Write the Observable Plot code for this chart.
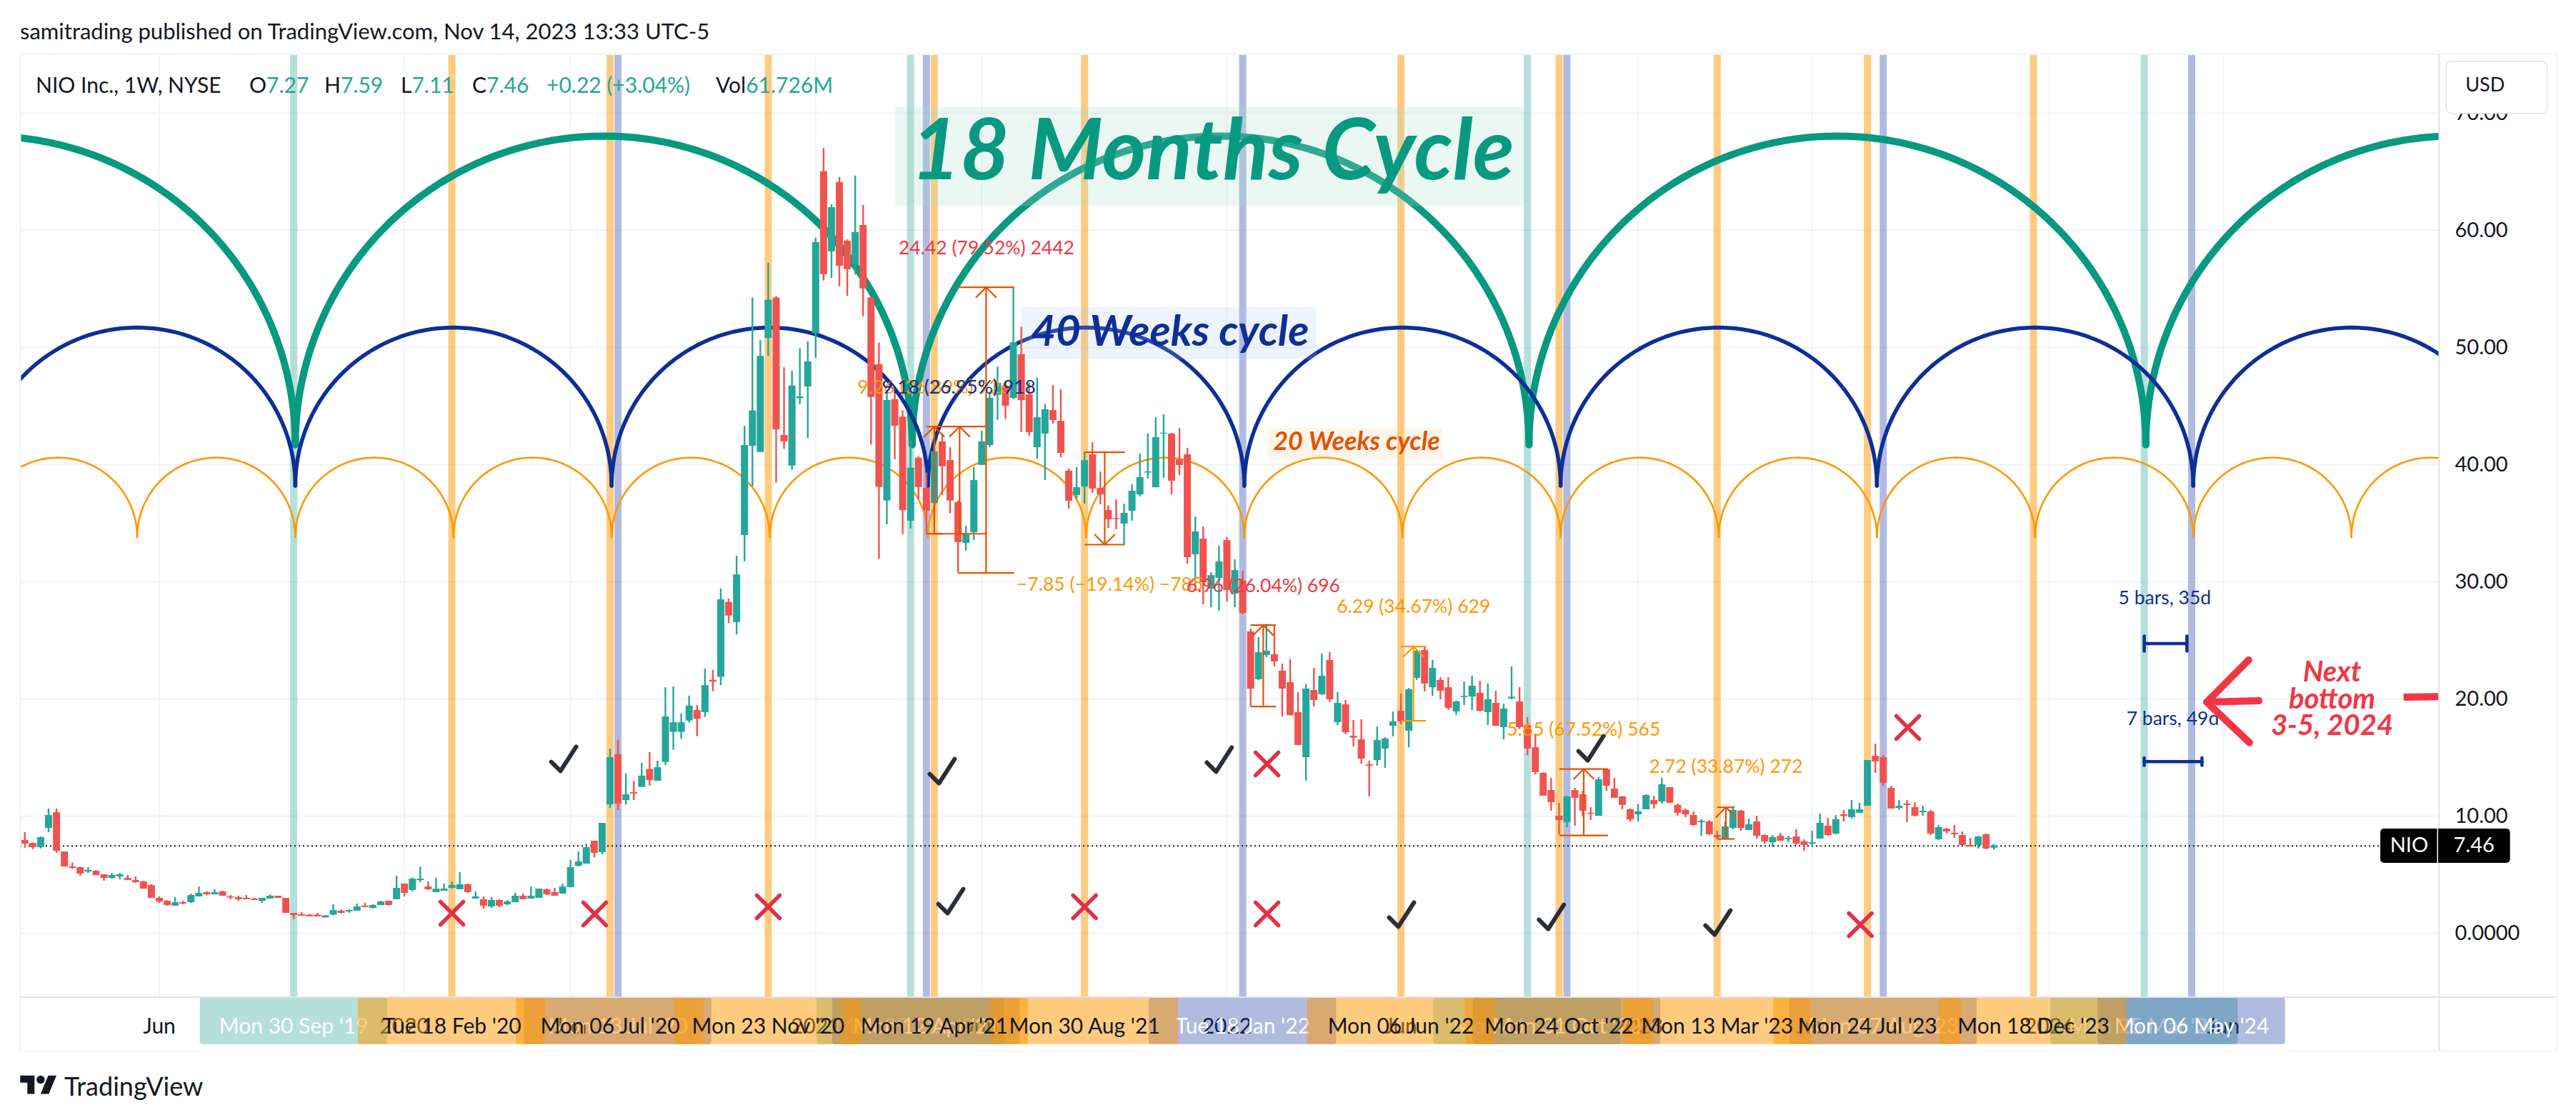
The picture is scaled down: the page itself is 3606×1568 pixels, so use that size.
<!DOCTYPE html>
<html><head><meta charset="utf-8">
<style>
html,body{margin:0;padding:0;background:#fff;overflow:hidden}
body{font-family:Lato,"Noto Sans",sans-serif;color:#131722;width:3606px;height:1568px;position:relative}
#top{height:75px;line-height:86px;padding-left:28px;font-size:31px;box-sizing:border-box}
#foot{height:96px;display:flex;align-items:center;padding-left:28px;font-size:36px;gap:10px;box-sizing:border-box}
.lg{position:absolute;top:98px;font-size:30px;line-height:40px;white-space:pre}
.v{color:#26a69a}
</style>
<script src="https://cdn.jsdelivr.net/npm/d3@7"></script>
<script src="https://cdn.jsdelivr.net/npm/@observablehq/plot@0.6"></script>
</head><body>
<div id="top">samitrading published on TradingView.com, Nov 14, 2023 13:33 UTC-5</div>
<div id="chart"></div>
<div id="foot"><svg width="52" height="40" viewBox="0 0 36 28"><path fill="#131722" d="M14 22H7V11H0V4h14v18zM28 22h-8l7.5-18h8L28 22z"/><circle fill="#131722" cx="20" cy="8" r="4"/></svg><span>TradingView</span></div>
<div class="lg" style="left:50px">NIO Inc., 1W, NYSE</div>
<div class="lg" style="left:349px">O<span class="v">7.27</span></div>
<div class="lg" style="left:454px">H<span class="v">7.59</span></div>
<div class="lg" style="left:561px">L<span class="v">7.11</span></div>
<div class="lg" style="left:661px">C<span class="v">7.46</span></div>
<div class="lg v" style="left:765px">+0.22 (+3.04%)</div>
<div class="lg" style="left:1002px">Vol<span class="v">61.726M</span></div>
<script>
const firstWeek = "2019-02-04";
const opens = [7.93,7.68,7.32,8.96,10.30,6.95,5.67,5.61,5.24,5.30,
5.00,4.69,4.82,4.69,4.51,4.39,4.08,2.99,2.74,2.32,
2.62,2.62,3.11,3.47,3.29,3.54,3.13,3.05,2.99,2.93,
2.74,2.93,3.17,2.99,1.71,1.58,1.56,1.56,1.32,1.56,
1.89,1.83,1.89,2.32,2.13,2.38,2.74,2.87,4.21,3.66,
4.51,3.96,3.48,3.60,3.84,3.72,4.15,2.93,2.87,2.26,
2.81,2.44,2.62,3.17,2.93,2.99,3.72,3.48,3.35,3.90,
5.73,5.91,7.87,6.89,10.98,15.26,11.34,12.01,12.46,13.99,
12.98,14.59,17.16,17.16,18.13,19.03,18.84,21.60,21.86,28.25,
26.53,33.96,41.57,41.05,50.79,54.23,42.5,39.89,45.64,46.65,
51.17,65.01,58.18,64.08,59.08,57.06,60.42,54.26,48.55,36.91,
45.57,44.07,35.19,40.56,37.99,36.7,41.95,40.36,36.76,33.29,
34.20,39.95,41.64,45.93,46.58,45.67,49.39,45.97,41.46,42.62,
44.63,43.71,39.45,37.37,38.10,40.85,37.98,36.09,35.40,34.93,
36.03,37.43,39.30,38.04,42.62,42.62,40.42,40.85,32.31,33.65,
29.39,30.30,33.53,28.96,30.06,25.73,21.65,23.72,23.78,22.38,
21.40,18.84,15.0,20.73,20.37,23.29,17.99,19.51,16.83,16.52,
14.39,14.76,15.73,17.68,18.96,17.26,21.77,24.15,20.97,21.59,
20.97,18.9,20.14,20.18,20.49,18.84,19.63,17.56,20.02,19.76,
17.74,15.85,13.66,12.19,10.0,9.45,12.19,11.83,10.25,10.0,
13.96,12.32,11.65,10.55,10.12,10.55,11.34,11.22,12.44,10.92,
10.49,10.06,9.45,9.51,8.35,8.05,8.96,10.43,8.78,9.51,
8.35,7.74,8.29,7.99,8.23,7.81,7.62,8.05,9.15,8.48,
10.12,9.88,10.25,10.85,15.12,15.0,12.38,10.67,11.04,10.73,
10.31,10.37,7.99,8.90,8.54,8.35,7.50,7.50,8.42,7.27];
const highs = [8.60,7.72,8.23,10.61,10.61,6.95,6.01,5.65,5.61,5.36,
5.00,5.12,5.12,4.94,4.82,4.45,4.15,3.11,2.80,3.05,
2.74,3.35,3.96,3.54,3.72,3.60,3.23,3.17,3.23,2.99,
2.99,3.29,3.17,2.99,1.71,1.77,1.62,1.71,1.50,2.44,
2.0,2.01,2.5,2.56,2.44,2.74,2.74,4.88,4.21,4.70,
5.67,4.39,4.70,4.21,4.39,5.18,4.21,3.54,3.11,3.05,
2.87,2.81,3.42,3.35,3.96,3.78,3.78,3.84,4.21,6.22,
6.95,7.62,7.87,9.39,15.73,16.49,13.62,12.98,14.51,15.44,
14.70,20.97,21.04,18.73,20.26,19.44,22.57,22.46,29.40,28.54,
32.2,43.29,54.23,50.6,57.21,54.37,48.29,47.99,49.9,50.49,
59.34,66.99,62.21,64.53,59.19,64.64,62.14,54.26,50.38,46.16,
46.16,44.6,42.06,40.68,39.29,41.6,42.54,41.46,36.9,34.75,
39.75,42.86,46.19,48.33,46.95,55.1,51.74,46.95,47.37,45.18,
46.76,46.40,39.63,39.75,41.05,41.89,39.39,36.52,37.01,36.64,
38.29,40.91,42.62,44.02,44.26,42.68,43.10,41.40,35.54,34.69,
30.79,33.04,33.78,31.89,30.91,25.98,25.24,26.38,26.22,22.99,
23.35,20.55,21.22,22.62,23.84,23.96,20.55,19.88,18.17,18.23,
14.70,17.62,16.71,18.90,20.43,20.91,24.15,24.49,23.29,21.83,
21.83,19.82,21.46,21.95,21.52,21.28,20.67,19.57,22.74,20.98,
18.42,17.0,13.72,13.23,11.1,11.71,12.38,12.13,10.73,13.30,
13.98,13.23,11.71,10.61,10.98,11.83,11.71,13.23,12.44,11.04,
10.61,10.37,9.70,9.64,8.72,9.51,10.79,10.49,9.76,10.0,
8.42,8.35,8.54,8.29,8.84,7.99,8.72,10.18,9.82,10.06,
10.49,11.34,11.10,14.76,16.16,15.18,12.56,11.34,11.34,11.16,
10.85,10.49,9.21,8.96,9.21,8.66,8.11,8.29,8.48,7.59];
const lows = [7.28,7.15,7.21,8.60,6.83,5.67,5.45,4.88,5.12,4.94,
4.45,4.63,4.57,4.51,4.27,3.78,2.99,2.56,2.32,2.32,
2.44,2.56,3.11,3.23,3.29,3.17,2.87,2.74,2.87,2.80,
2.56,2.93,2.99,1.71,1.16,1.46,1.41,1.41,1.32,1.50,
1.65,1.71,1.89,2.2,2.07,2.38,2.32,2.87,3.11,3.54,
4.33,3.66,3.48,3.6,3.78,3.72,3.42,2.93,2.07,2.13,
2.2,2.38,2.62,2.87,2.93,2.99,3.23,3.17,3.35,3.9,
5.67,5.91,6.46,6.71,10.67,10.48,10.96,11.34,12.46,12.57,
12.98,14.32,15.63,16.56,17.95,16.79,18.43,20.63,21.15,26.45,
25.48,31.72,38.14,41.05,49.26,38.44,41.31,39.52,45.12,42.24,
49.07,55.68,55.91,55.2,54.38,56.2,52.62,41.68,31.94,34.89,
40.42,34.03,34.52,37.02,34.03,35.36,37.39,35.81,30.75,32.64,
33.55,39.95,41.48,43.80,43.86,45.56,42.76,42.43,40.48,38.65,
43.47,40.60,36.21,37.07,36.64,37.56,36.58,34.57,34.45,33.17,
35.18,37.25,38.8,38.04,38.84,37.43,39.08,31.52,29.63,28.04,
27.80,27.50,28.29,27.80,27.19,19.35,21.59,23.54,22.74,18.48,
18.54,16.04,12.99,19.33,20.31,19.70,17.74,16.95,15.91,14.45,
11.65,14.27,14.09,16.77,17.80,15.85,21.59,20.61,20.24,19.94,
19.03,18.6,19.45,19.03,18.9,17.74,17.68,16.52,19.94,17.4,
15.18,13.53,11.71,10.43,8.4,9.02,9.15,9.94,9.63,10.0,
12.13,11.53,10.55,9.51,9.51,10.55,10.61,11.04,11.10,10.0,
9.88,9.15,8.29,8.35,7.99,7.95,8.84,8.72,8.78,8.05,
7.62,7.34,7.87,7.74,7.50,7.01,7.34,8.05,8.29,8.42,
9.51,9.76,10.25,10.85,13.66,12.56,10.61,10.49,9.45,9.94,
10.0,8.35,7.93,8.48,8.11,7.5,7.38,7.20,7.14,7.11];
const closes = [7.62,7.32,8.17,10.06,7.01,5.67,5.55,5.06,5.38,4.94,
4.69,4.94,5.0,4.51,4.33,3.78,2.99,2.68,2.38,2.62,
2.5,3.23,3.41,3.29,3.47,3.17,3.03,2.87,2.87,2.80,
2.99,3.17,2.99,1.71,1.52,1.46,1.41,1.41,1.50,1.95,
1.71,1.95,2.26,2.2,2.38,2.68,2.38,3.84,3.42,4.63,
4.63,3.72,3.78,3.78,4.09,4.15,3.48,3.11,2.32,2.81,
2.32,2.68,3.17,2.87,3.17,3.78,3.29,3.17,3.96,5.61,
6.10,7.32,6.83,9.39,15.0,11.04,11.82,11.90,13.43,13.05,
14.14,18.47,17.98,17.98,19.40,18.28,21.15,21.45,28.47,27.09,
30.6,41.65,44.60,49.26,54.04,42.99,41.95,46.72,45.79,48.78,
58.97,56.24,61.95,56.95,56.65,59.83,55.01,45.75,38.06,45.49,
43.29,36.08,39.71,38.06,36.05,41.11,39.83,36.91,33.35,34.06,
38.65,41.95,45.67,46.95,45.0,50.42,45.48,42.74,44.02,44.69,
43.78,40.97,36.89,38.04,40.36,37.92,37.43,35.30,35.32,35.85,
37.74,38.90,39.39,42.31,42.70,38.59,39.93,32.07,34.26,29.93,
30.54,31.70,29.26,30.97,27.31,20.85,23.96,24.09,23.17,20.85,
18.6,16.04,20.85,19.88,21.95,19.94,19.63,17.13,16.67,14.88,
14.27,16.46,16.59,18.05,18.05,20.79,24.09,21.28,22.62,20.67,
19.21,19.76,20.24,21.10,18.96,19.94,17.68,19.15,20.16,17.56,
15.73,13.72,11.71,11.16,9.63,11.65,11.53,10.43,10.16,13.11,
12.56,11.53,10.92,9.69,10.37,11.77,10.98,12.68,11.10,10.25,
10.12,9.21,9.57,8.42,8.17,9.09,10.49,8.96,9.27,8.29,
7.81,8.17,7.87,8.11,7.62,7.50,7.74,9.39,8.35,9.70,
9.98,10.55,10.55,14.76,14.64,12.81,10.61,10.85,10.92,10.0,
10.43,8.48,9.03,8.66,8.42,7.50,7.38,8.23,7.20,7.46];

const priceTicks = [0,10,20,30,40,50,60,70];
const lastPrice = 7.46;

// Highlighted weeks: the vertical lines and their time-axis labels
const greenWeeks = [["2019-09-30","Mon 30 Sep '19"],["2021-03-29","Mon 29 Mar '21"],["2022-09-26","Mon 26 Sep '22"],["2024-03-25","Mon 25 Mar '24"]];
const blueWeeks = [["2020-07-13","Mon 13 Jul '20"],["2021-04-12","Mon 12 Apr '21"],["2022-01-17","Tue 18 Jan '22"],["2022-10-31","Mon 31 Oct '22"],["2023-08-07","Mon 07 Aug '23"],["2024-05-06","Mon 06 May '24"]];
const orangeWeeks = [["2020-02-17","Tue 18 Feb '20"],["2020-07-06","Mon 06 Jul '20"],["2020-11-23","Mon 23 Nov '20"],["2021-04-19","Mon 19 Apr '21"],["2021-08-30","Mon 30 Aug '21"],["2022-06-06","Mon 06 Jun '22"],["2022-10-24","Mon 24 Oct '22"],["2023-03-13","Mon 13 Mar '23"],["2023-07-24","Mon 24 Jul '23"],["2023-12-18","Mon 18 Dec '23"]];
const timeTicks = [["2019-06-03","Jun"],["2020-01-06","2020"],["2020-06-01","Jun"],["2021-01-04","2021"],["2021-05-31","Jun"],["2022-01-03","2022"],["2022-06-06","Jun"],["2023-01-02","2023"],["2023-06-05","Jun"],["2024-01-01","2024"],["2024-06-03","Jun"]];

// Cycle arcs: week of the first low, length in weeks, price at the low and at the crest
const cycleStartBar = 34.2;
const cycles = [
  {name:"18m", weeks:78, low:41.7, crest:68.05, color:"#089981", width:10},
  {name:"40w", weeks:40, low:38.2, crest:51.7, color:"#0d2f96", width:5.5},
  {name:"20w", weeks:20, low:33.8, crest:40.6, color:"#ff9800", width:2.6}
];

// Price-range tools: first bar, last bar, top, bottom, direction
const ranges = [
  {b1:118.0,b2:125.1,top:55.14,bot:30.75,up:true,color:"#e65100"},
  {b1:114.0,b2:116.0,top:43.25,bot:34.10,up:true,color:"#e65100"},
  {b1:114.8,b2:121.6,top:43.25,bot:34.10,up:true,color:"#e65100"},
  {b1:134.0,b2:139.1,top:41.06,bot:33.17,up:false,color:"#e65100"},
  {b1:155.0,b2:158.2,top:26.30,bot:19.35,up:true,color:"#e65100"},
  {b1:174.0,b2:177.2,top:24.47,bot:18.13,up:true,color:"#ff9800"},
  {b1:194.05,b2:200.2,top:14.02,bot:8.35,up:true,color:"#e65100"},
  {b1:214.0,b2:216.2,top:10.75,bot:8.05,up:true,color:"#e65100"}
];
const rangeLabels = [
  {bar:121.6,price:58.5,text:"24.42 (79.52%) 2442",color:"#f23645"},
  {bar:115.0,price:46.6,text:"9.26 (26.89%) 926",color:"#ff9800"},
  {bar:118.1,price:46.6,text:"9.18 (26.95%) 918",color:"#0d2f96"},
  {bar:137.2,price:29.76,text:"−7.85 (−19.14%) −785",color:"#ff9800"},
  {bar:156.6,price:29.63,text:"6.96 (26.04%) 696",color:"#f23645"},
  {bar:175.6,price:27.87,text:"6.29 (34.67%) 629",color:"#ff9800"},
  {bar:197.1,price:17.4,text:"5.65 (67.52%) 565",color:"#ff9800"},
  {bar:215.1,price:14.18,text:"2.72 (33.87%) 272",color:"#ff9800"},
  {bar:270.6,price:28.6,text:"5 bars, 35d",color:"#0d2f96"},
  {bar:271.6,price:18.3,text:"7 bars, 49d",color:"#0d2f96"}
];
const spans = [
  {b1:268.0,b2:273.4,price:24.73,cap:0.64},
  {b1:268.0,b2:275.3,price:14.65,cap:0.32}
];
const crossMarks = [[54.0,1.71],[72.06,1.65],[94.0,2.26],[157.07,14.45],[134.0,2.26],[157.07,1.65],[238.1,17.56],[232.1,0.73]];
const checkMarks = [[68.1,14.88],[115.96,13.84],[151.0,14.82],[117.05,2.74],[174.05,1.59],[193.0,1.4],[214.05,0.91],[198.0,15.79]];

const titles = [
  {text:"18 Months Cycle",bar:150.2,price:66.7,size:119,color:"#089981",b1:110.1,b2:190.0,top:70.5,bot:62.07,fill:"rgba(170,222,200,0.24)"},
  {text:"40 Weeks cycle",bar:144.8,price:51.3,size:60,color:"#0d2f96",b1:126.1,b2:163.4,top:53.4,bot:48.96,fill:"rgba(170,200,245,0.2)"},
  {text:"20 Weeks cycle",bar:168.4,price:41.95,size:36,color:"#e65100",b1:157.1,b2:179.3,top:43.1,bot:40.43,fill:"rgba(255,210,150,0.2)"}
];
const nextBottom = [["Next",22.3],["bottom",19.94],["3-5, 2024",17.68]];
const arrowHead = [[281.2,23.32],[275.9,19.73],[281.3,16.27]];
const arrowShaft = [[275.9,19.73],[282.5,19.85]];
const arrowTail = [[300.8,20.15],[305.2,20.2]];

// Palette and frame
const FONT = "Lato";
const UP = "#26a69a", DOWN = "#ef5350";
const GREEN = "rgba(8,153,129,0.3)", BLUE = "rgba(18,48,160,0.33)", ORANGE = "rgba(255,152,0,0.5)";
const GRID = "#f0f3fa", EDGE = "#e0e3eb";
const Y_TOP = 75.06, Y_BOTTOM = -10.12, Y_AXIS = -5.45, Y_BAND = -9.5, Y_LABEL = -7.95;
const BAR_LEFT = -0.57, BAR_RIGHT = 305.3, BAR_OUTER = 320.2;

const barOf = s => (new Date(s) - new Date(firstWeek)) / (7 * 864e5);
const candles = opens.map((o, i) => ({bar:i, o, h:highs[i], l:lows[i], c:closes[i], color:closes[i] >= o ? UP : DOWN}));

const arcs = cycles.flatMap(cy => {
  const pts = [];
  for (let k = -2; k * cy.weeks + cycleStartBar < BAR_RIGHT; k++) {
    const c = cycleStartBar + k * cy.weeks;
    for (let a = 0; a <= 180; a += 2) {
      const t = a * Math.PI / 180;
      pts.push({name:cy.name, k, bar:c + cy.weeks / 2 * (1 - Math.cos(t)), price:cy.low + (cy.crest - cy.low) * Math.sin(t)});
    }
  }
  return pts;
});

const seg = (b1,p1,b2,p2,color) => ({b1,p1,b2,p2,color});
const HEAD_B = 1.3, HEAD_P = 0.88;
const rangeSegs = ranges.flatMap(r => {
  const m = (r.b1 + r.b2) / 2, tip = r.up ? r.top : r.bot, back = r.up ? tip - HEAD_P : tip + HEAD_P;
  return [seg(r.b1,r.top,r.b2,r.top,r.color), seg(r.b1,r.bot,r.b2,r.bot,r.color), seg(m,r.top,m,r.bot,r.color),
          seg(m-HEAD_B,back,m,tip,r.color), seg(m+HEAD_B,back,m,tip,r.color)];
});
const spanSegs = spans.flatMap(s => [seg(s.b1,s.price,s.b2,s.price,"#0d2f96"), seg(s.b1,s.price-s.cap,s.b1,s.price+s.cap,"#0d2f96"), seg(s.b2,s.price-s.cap,s.b2,s.price+s.cap,"#0d2f96")]);

const crossSym = {draw(c,size){const s=Math.sqrt(size/Math.PI);c.moveTo(-s,-s);c.lineTo(s,s);c.moveTo(s,-s);c.lineTo(-s,s);}};
const checkSym = {draw(c,size){const s=Math.sqrt(size/Math.PI);c.moveTo(-s,.24*s);c.lineTo(-.24*s,s);c.lineTo(1.05*s,-s);}};

const vline = (list, color) => Plot.ruleX(list, {x:d => barOf(d[0]), y1:Y_TOP, y2:Y_AXIS, stroke:color, strokeWidth:10});
const band = (list, color) => Plot.rect(list, {x1:d => barOf(d[0]) - 11.85, x2:d => barOf(d[0]) + 11.85, y1:Y_AXIS, y2:Y_BAND, fill:color, rx:4});
const axisText = (list, color) => Plot.text(list, {x:d => barOf(d[0]), y:Y_LABEL, text:d => d[1], fill:color, fontSize:30, fontFamily:FONT});

const chart = Plot.plot({
  width:3606, height:1397, marginLeft:28, marginRight:192, marginTop:0, marginBottom:0,
  style:{background:"#fff", fontFamily:FONT, display:"block"},
  x:{domain:[BAR_LEFT,BAR_RIGHT], axis:null},
  y:{domain:[Y_BOTTOM,Y_TOP], axis:null},
  color:{type:"identity"},
  marks:[
    Plot.ruleY(priceTicks, {y:d => d, x1:BAR_LEFT, x2:BAR_RIGHT, stroke:GRID, strokeWidth:2}),
    Plot.ruleX(timeTicks, {x:d => barOf(d[0]), y1:Y_TOP, y2:Y_AXIS, stroke:GRID, strokeWidth:2}),
    vline(greenWeeks, GREEN), vline(blueWeeks, BLUE), vline(orangeWeeks, ORANGE),
    Plot.line(arcs, {filter:d => d.name === "18m", x:"bar", y:"price", z:"k", stroke:cycles[0].color, strokeWidth:cycles[0].width, clip:true, curve:"linear"}),
    Plot.line(arcs, {filter:d => d.name === "40w", x:"bar", y:"price", z:"k", stroke:cycles[1].color, strokeWidth:cycles[1].width, clip:true, curve:"linear"}),
    Plot.line(arcs, {filter:d => d.name === "20w", x:"bar", y:"price", z:"k", stroke:cycles[2].color, strokeWidth:cycles[2].width, clip:true, curve:"linear"}),
    Plot.rect(titles, {x1:"b1", x2:"b2", y1:"bot", y2:"top", fill:"fill"}),
    Plot.ruleY([lastPrice], {x1:BAR_LEFT, x2:297.9, stroke:"#131722", strokeWidth:2, strokeDasharray:"2 4"}),
    Plot.ruleX(candles, {x:"bar", y1:"l", y2:"h", stroke:"color", strokeWidth:2.4}),
    Plot.ruleX(candles, {x:"bar", y1:"o", y2:"c", stroke:"color", strokeWidth:10}),
    Plot.link(rangeSegs, {x1:"b1", y1:"p1", x2:"b2", y2:"p2", stroke:"color", strokeWidth:2.2}),
    Plot.link(spanSegs, {x1:"b1", y1:"p1", x2:"b2", y2:"p2", stroke:"color", strokeWidth:4.5, strokeLinecap:"round"}),
    Plot.text(rangeLabels, {x:"bar", y:"price", text:"text", fill:"color", fontSize:26.5, fontFamily:FONT}),
    Plot.dot(crossMarks, {x:d => d[0], y:d => d[1], r:16, symbol:crossSym, fill:"none", stroke:"#e13146", strokeWidth:5.5, strokeLinecap:"round"}),
    Plot.dot(checkMarks, {x:d => d[0], y:d => d[1], r:17, symbol:checkSym, fill:"none", stroke:"#2a2e39", strokeWidth:6, strokeLinecap:"round", strokeLinejoin:"round"}),
    ...[arrowHead, arrowShaft, arrowTail].map(a => Plot.line(a, {x:d => d[0], y:d => d[1], stroke:"#f23645", strokeWidth:10, strokeLinecap:a === arrowTail ? "butt" : "round", strokeLinejoin:"round", curve:"linear", clip:true})),
    Plot.text(nextBottom, {x:291.75, y:d => d[1], text:d => d[0], fill:"#f23645", fontSize:40, fontWeight:"bold", fontStyle:"italic", fontFamily:FONT}),
    Plot.text(titles, {x:"bar", y:"price", text:"text", fill:"color", fontSize:d => d.size, fontWeight:"bold", fontStyle:"italic", fontFamily:FONT}),
    // time axis: tick labels lie under the tinted label bands
    axisText(timeTicks, "#131722"),
    band(greenWeeks, GREEN), axisText(greenWeeks, "#fff"),
    band(blueWeeks, BLUE), axisText(blueWeeks, "#fff"),
    band(orangeWeeks, ORANGE), axisText(orangeWeeks, "#131722"),
    // frame
    Plot.ruleX([BAR_LEFT], {y1:Y_TOP, y2:Y_BOTTOM, stroke:GRID, strokeWidth:2}),
    Plot.ruleX([BAR_RIGHT], {y1:Y_TOP, y2:Y_BOTTOM, stroke:EDGE, strokeWidth:2}),
    Plot.ruleX([BAR_OUTER], {y1:Y_TOP, y2:Y_BOTTOM, stroke:GRID, strokeWidth:2}),
    Plot.ruleY([Y_AXIS], {x1:BAR_LEFT, x2:BAR_OUTER, stroke:EDGE, strokeWidth:2}),
    Plot.ruleY([Y_TOP,Y_BOTTOM], {x1:BAR_LEFT, x2:BAR_OUTER, stroke:GRID, strokeWidth:3}),
    // price axis
    Plot.axisY(priceTicks, {anchor:"right", tickSize:0, tickPadding:22, label:null, tickFormat:d => d === 0 ? "0.0000" : d.toFixed(2), fontSize:29, fontFamily:FONT, fill:"#131722"}),
    Plot.rect([1], {x1:306.2, x2:319.0, y1:69.95, y2:74.4, fill:"#fff", stroke:EDGE, strokeWidth:1.5, rx:8}),
    Plot.text(["USD"], {x:311.1, y:72.4, fill:"#131722", fontSize:27, fontFamily:FONT}),
    Plot.rect([1], {x1:297.9, x2:314.3, y1:5.98, y2:8.9, fill:"#000", rx:5}),
    Plot.ruleX([305.1], {y1:5.98, y2:8.9, stroke:"#fff", strokeWidth:1.5}),
    Plot.text(["NIO"], {x:301.5, y:lastPrice, fill:"#fff", fontSize:29, fontFamily:FONT}),
    Plot.text([lastPrice], {x:309.7, y:lastPrice, text:d => d.toFixed(2), fill:"#fff", fontSize:29, fontFamily:FONT})
  ]
});
document.getElementById("chart").append(chart);
</script>
</body></html>
